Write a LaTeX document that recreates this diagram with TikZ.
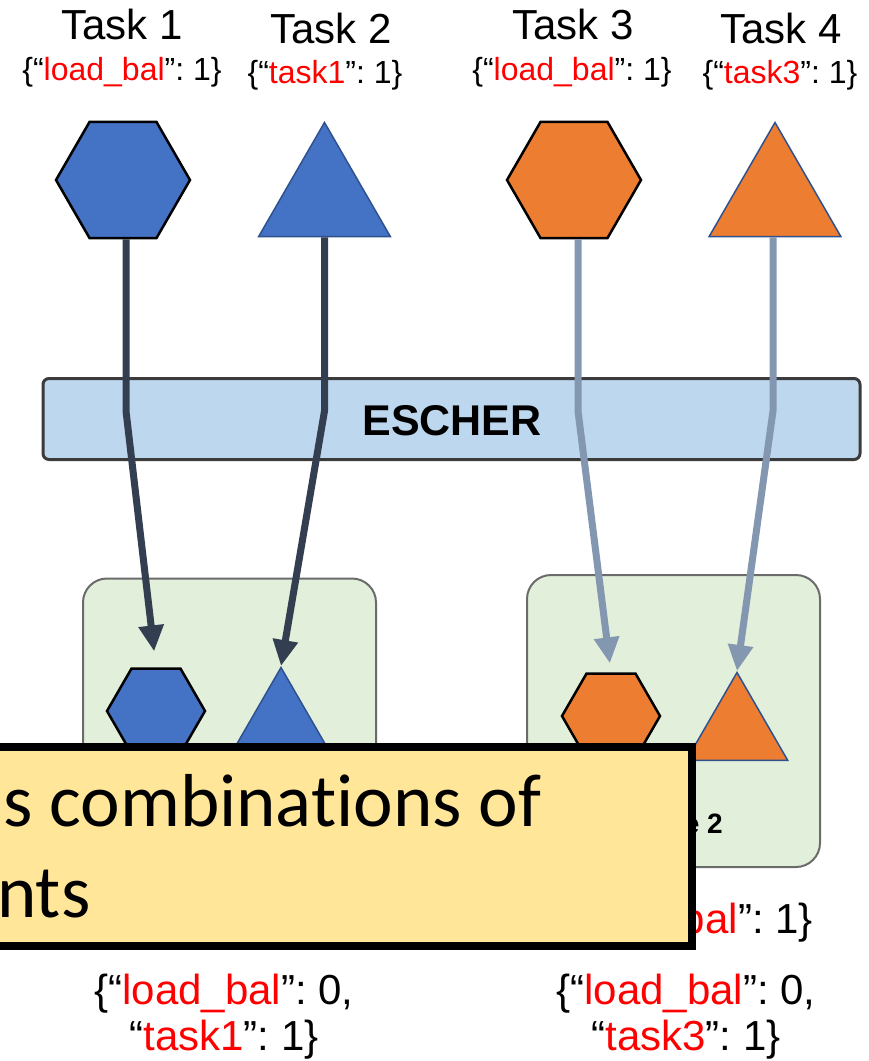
\documentclass[tikz,border=0pt]{standalone}
\usepackage{fontspec}
\setmainfont{Liberation Sans}
\newfontfamily\calloutfont[Ligatures=NoCommon]{Carlito}
\usetikzlibrary{positioning,shapes.geometric,arrows.meta}
\frenchspacing

\begin{document}
\begin{tikzpicture}[x=1pt,y=-1pt]
  \definecolor{taskblue}{HTML}{4472C4}
  \definecolor{taskorange}{HTML}{ED7D31}
  \definecolor{trianglerim}{HTML}{2F528F}
  \definecolor{nodegreen}{HTML}{E2EFDA}
  \definecolor{noderim}{HTML}{6B6B6B}
  \definecolor{escherblue}{HTML}{BDD7EE}
  \definecolor{escherrim}{HTML}{3B3B3B}
  \definecolor{darkslate}{HTML}{333F50}
  \definecolor{lightslate}{HTML}{8497B0}
  \definecolor{calloutyellow}{HTML}{FFE699}
  \newcommand{\tasklabel}[1]{\fontsize{42}{48}\selectfont #1}
  \newcommand{\jkey}[1]{\textcolor{red}{#1}}
  \newcommand{\smalldesc}{\fontsize{32}{38}\selectfont}
  \newcommand{\bigdesc}{\fontsize{42}{46}\selectfont}
  \tikzstyle{taskhex}   = [regular polygon, regular polygon sides=6, inner sep=0pt, draw=black, line width=2.5pt]
  \tikzstyle{tasktri}   = [regular polygon, regular polygon sides=3, inner sep=0pt, draw=trianglerim, line width=1.5pt]
  \tikzstyle{nodebox}   = [rectangle, rounded corners=24pt, draw=noderim, line width=2pt, fill=nodegreen, minimum width=293pt]
  \tikzstyle{connector} = [line width=7pt, -{Triangle[length=26pt,width=24pt]}]
  \tikzstyle{callouttext} = [anchor=base west, inner sep=0pt, font=\calloutfont\fontsize{75}{86}\selectfont]
  \useasboundingbox (0,0) rectangle (869,1061);
  \fill [white] (0,0) rectangle (869,1061);
  % worker nodes
  \node [nodebox, minimum height=289pt] (nodeone) at (229.5,723) {};
  \node [nodebox, minimum height=292pt] (nodetwo) at (673.5,721) {};
  \node [anchor=base, font=\bfseries\fontsize{28}{32}\selectfont] (nodetwoname) at (676,833) {Node 2};
  \node [taskhex, fill=taskblue,   minimum size=98pt]  (hexone)   at (156,711) {};
  \node [tasktri, fill=taskblue,   minimum size=117pt] (trione)   at (281,726) {};
  \node [taskhex, fill=taskorange, minimum size=98pt]  (hextwo)   at (611,716) {};
  \node [tasktri, fill=taskorange, minimum size=117pt] (tritwo)   at (737,731) {};
  % scheduler bar
  \node [rectangle, rounded corners=6pt, draw=escherrim, line width=3pt, fill=escherblue,
         minimum width=817pt, minimum height=81pt] (escher) at (451.5,419) {};
  \node [anchor=base, font=\bfseries\fontsize{43}{48}\selectfont] (eschername) at (452,435) {ESCHER};
  \coordinate (bend) at (0,411);
  % submitted tasks
  \node [taskhex, fill=taskblue,   minimum size=134pt] (taskone)   at (123,180) {};
  \node [tasktri, fill=taskblue,   minimum size=152pt] (tasktwo)   at (324.5,198.5) {};
  \node [taskhex, fill=taskorange, minimum size=134pt] (taskthree) at (574,180) {};
  \node [tasktri, fill=taskorange, minimum size=152pt] (taskfour)  at (775,198.5) {};
  \node [anchor=base] (taskonename)   at (122,39) {\tasklabel{Task 1}};
  \node [anchor=base] (tasktwoname)   at (331,43) {\tasklabel{Task 2}};
  \node [anchor=base] (taskthreename) at (573,39) {\tasklabel{Task 3}};
  \node [anchor=base] (taskfourname)  at (781,43) {\tasklabel{Task 4}};
  \node [anchor=base] (taskonedesc)   at (122,80) {\smalldesc\{“\jkey{load\_bal}”: 1\}};
  \node [anchor=base] (tasktwodesc)   at (325,83) {\smalldesc\{“\jkey{task1}”: 1\}};
  \node [anchor=base] (taskthreedesc) at (572,80) {\smalldesc\{“\jkey{load\_bal}”: 1\}};
  \node [anchor=base] (taskfourdesc)  at (780,83) {\smalldesc\{“\jkey{task3}”: 1\}};
  % placement arrows
  \draw [connector, darkslate, shorten >=16pt] ([xshift=3pt]taskone.south) -- ([xshift=3pt]taskone.south |- bend) -- (hexone.north);
  \draw [connector, darkslate]                 (tasktwo.south) -- (tasktwo.south |- bend) -- (trione.corner 1);
  \draw [connector, lightslate, shorten >=9pt] ([xshift=4pt]taskthree.south) -- ([xshift=4pt]taskthree.south |- bend) -- (hextwo.north);
  \draw [connector, lightslate]                ([xshift=-2pt]taskfour.south) -- ([xshift=-2pt]taskfour.south |- bend) -- (tritwo.corner 1);
  % resulting labels
  \node [anchor=base] (nodetwodesc) at (682,933) {\bigdesc\{“\jkey{load\_bal}”: 1\}};
  \node [anchor=base, align=center, font=\bigdesc] (nodeonenew) at (224,1050) {\{“\jkey{load\_bal}”: 0,\\“\jkey{task1}”: 1\}};
  \node [anchor=base, align=center, font=\bigdesc] (nodetwonew) at (686,1050) {\{“\jkey{load\_bal}”: 0,\\“\jkey{task3}”: 1\}};
  % callout
  \node [rectangle, draw=black, line width=8pt, fill=calloutyellow, minimum width=722pt, minimum height=199pt] (callout) at (331,846.5) {};
  \node [callouttext] (calloutone) at (3,826) {s combinations of};
  \node [callouttext] (callouttwo) at (-3,917) {nts};
\end{tikzpicture}
\end{document}
